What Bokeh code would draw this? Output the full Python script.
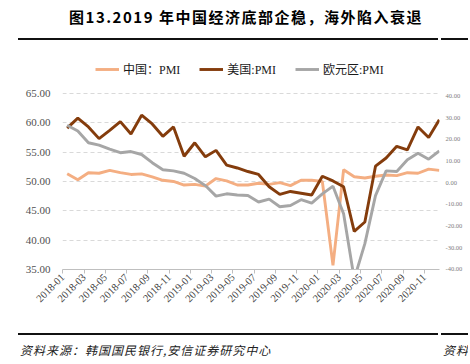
from bokeh.plotting import figure
from bokeh.models import (Range1d, FixedTicker, PrintfTickFormatter, Legend, LegendItem,
                          LinearAxis, ColumnDataSource, Div)
from bokeh.layouts import column
from bokeh.embed import file_html
from bokeh.resources import INLINE
import math

# ---------------- data ----------------
months = [f"{y}-{m:02d}" for y in (2018, 2019, 2020) for m in range(1, 13)]
china_pmi = [51.3, 50.3, 51.5, 51.4, 51.9, 51.5, 51.2, 51.3, 50.8, 50.2, 50.0, 49.4,
             49.5, 49.2, 50.5, 50.1, 49.4, 49.4, 49.7, 49.5, 49.8, 49.3, 50.2, 50.2,
             50.0, 35.7, 52.0, 50.8, 50.6, 50.9, 51.1, 51.0, 51.5, 51.4, 52.1, 51.9]
us_pmi = [59.1, 60.8, 59.3, 57.3, 58.7, 60.2, 58.1, 61.3, 59.8, 57.7, 59.3, 54.3,
          56.6, 54.2, 55.3, 52.8, 52.3, 51.7, 51.2, 49.1, 47.8, 48.3, 48.0, 47.7,
          50.9, 50.1, 49.1, 41.5, 43.1, 52.6, 54.0, 56.0, 55.4, 59.3, 57.5, 60.5]
euro_pmi = [59.6, 58.6, 56.6, 56.2, 55.5, 54.9, 55.1, 54.6, 53.2, 52.0, 51.8, 51.4,
            50.5, 49.3, 47.5, 47.9, 47.7, 47.6, 46.5, 47.0, 45.7, 45.9, 46.9, 46.3,
            47.9, 49.2, 44.5, 33.4, 39.4, 47.6, 51.8, 51.7, 53.7, 54.8, 53.8, 55.2]
series_names = ["中国：PMI", "美国:PMI", "欧元区:PMI"]
y_ticks = [35, 40, 45, 50, 55, 60, 65]
neighbor_ticks = [-40, -30, -20, -10, 0, 10, 20, 30, 40]

title_text = "图13.2019 年中国经济底部企稳，海外陷入衰退"
source_text = "资料来源：韩国国民银行,安信证券研究中心"
cut_text = "资料"

# ---------------- layout ----------------
W = 468
TOP_H, FIG_H, BOT_H = 42, 284, 36
ML, MR, MT, MB = 62, 29, 14, 57
X0, X1 = -0.03, 35.43
Y0, Y1 = 35, 71.3          # top part of the frame holds the legend
R0, R1 = -40.14, 58.36     # scale of the neighbouring chart's axis

SERIF = "'Liberation Serif', 'Noto Sans CJK SC'"

top_html = (
    f'<div style="position:relative;width:{W}px;height:{TOP_H}px;overflow:hidden;">'
    f'<div style="position:absolute;left:22px;width:448px;top:6px;height:22px;line-height:22px;'
    f'text-align:center;font-family:\'Noto Sans CJK SC\';font-weight:bold;font-size:15px;'
    f'letter-spacing:1.5px;color:#000;white-space:nowrap;">{title_text}</div>'
    f'<div style="position:absolute;left:18px;width:420px;top:38px;height:2px;background:#111;"></div>'
    f'<div style="position:absolute;left:441px;width:40px;top:38px;height:2px;background:#111;"></div>'
    f'</div>'
)
bot_html = (
    f'<div style="position:relative;width:{W}px;height:{BOT_H}px;overflow:hidden;">'
    f'<div style="position:absolute;left:18px;width:420px;top:7px;height:2px;background:#111;"></div>'
    f'<div style="position:absolute;left:441px;width:40px;top:7px;height:2px;background:#111;"></div>'
    f'<div style="position:absolute;left:20px;top:14px;height:20px;line-height:20px;'
    f'font-family:\'Noto Sans CJK SC\';font-style:italic;font-size:12px;letter-spacing:1px;'
    f'color:#222;white-space:nowrap;">{source_text}</div>'
    f'<div style="position:absolute;left:443px;top:14px;height:20px;line-height:20px;'
    f'font-family:\'Noto Sans CJK SC\';font-style:italic;font-size:12px;letter-spacing:1px;'
    f'color:#222;white-space:nowrap;">{cut_text}</div>'
    f'</div>'
)
top_div = Div(text=top_html, width=W, height=TOP_H, margin=0)
bot_div = Div(text=bot_html, width=W, height=BOT_H, margin=0)

p = figure(width=W, height=FIG_H, output_backend="svg", toolbar_location=None,
           x_range=Range1d(X0, X1), y_range=Range1d(Y0, Y1),
           min_border_left=ML, min_border_right=MR, min_border_top=MT, min_border_bottom=MB,
           margin=0)
p.outline_line_color = None
p.background_fill_color = "white"
p.border_fill_color = "white"

xs = [i + 0.41 for i in range(len(months))]
src = ColumnDataSource(dict(x=xs, cn=china_pmi, us=us_pmi, eu=euro_pmi))
r_cn = p.line("x", "cn", source=src, line_color="#F4AE82", line_width=2.9)
r_us = p.line("x", "us", source=src, line_color="#843C0C", line_width=2.9)
r_eu = p.line("x", "eu", source=src, line_color="#A6A6A6", line_width=2.9)

# x axis
xa = p.xaxis[0]
xa.ticker = FixedTicker(ticks=list(range(0, len(months), 2)))
xa.major_label_overrides = {i: months[i] for i in range(0, len(months), 2)}
xa.major_label_orientation = math.pi / 4
xa.major_label_text_font = "Liberation Serif"
xa.major_label_text_font_size = "10.5px"
xa.major_label_text_color = "#404040"
xa.axis_line_color = "#BFBFBF"
xa.major_tick_line_color = "#BFBFBF"
xa.major_tick_out = 4
xa.major_tick_in = 0
xa.minor_tick_line_color = None
xa.major_label_standoff = 2

# y axis
ya = p.yaxis[0]
ya.ticker = FixedTicker(ticks=y_ticks)
ya.formatter = PrintfTickFormatter(format="%.2f")
ya.axis_line_color = None
ya.major_tick_line_color = None
ya.minor_tick_line_color = None
ya.major_tick_out = 0
ya.major_tick_in = 0
ya.major_label_standoff = 12
ya.major_label_text_font = "Liberation Serif"
ya.major_label_text_font_size = "11px"
ya.major_label_text_color = "#505050"

p.xgrid.grid_line_color = None
p.ygrid.ticker = FixedTicker(ticks=y_ticks[1:])
p.ygrid.grid_line_color = "#D9D9D9"
p.ygrid.grid_line_dash = "4 3"
p.ygrid.grid_line_width = 1

# faint axis of the neighbouring chart, visible at the right edge
p.extra_y_ranges = {"r": Range1d(R0, R1)}
ra = LinearAxis(y_range_name="r", ticker=FixedTicker(ticks=neighbor_ticks),
                formatter=PrintfTickFormatter(format="%.2f"))
ra.axis_line_color = None
ra.major_tick_line_color = None
ra.minor_tick_line_color = None
ra.major_tick_out = 0
ra.major_tick_in = 0
ra.major_label_standoff = 6
ra.major_label_text_font = "Liberation Serif"
ra.major_label_text_font_size = "6.5px"
ra.major_label_text_color = "#808080"
p.add_layout(ra, "right")

# legend in the blank top strip of the frame
legend = Legend(items=[LegendItem(label=series_names[0], renderers=[r_cn]),
                       LegendItem(label=series_names[1], renderers=[r_us]),
                       LegendItem(label=series_names[2], renderers=[r_eu])],
                orientation="horizontal", location=(33, 191),
                border_line_color=None, background_fill_alpha=0,
                padding=0, margin=0, spacing=19, glyph_width=24, glyph_height=12,
                label_standoff=4, label_height=12, label_text_font_size="12px",
                label_text_font=SERIF, label_text_color="#1a1a1a")
p.add_layout(legend)

layout = column(top_div, p, bot_div, spacing=0, margin=0)
open("out.html", "w").write(file_html(layout, INLINE))
